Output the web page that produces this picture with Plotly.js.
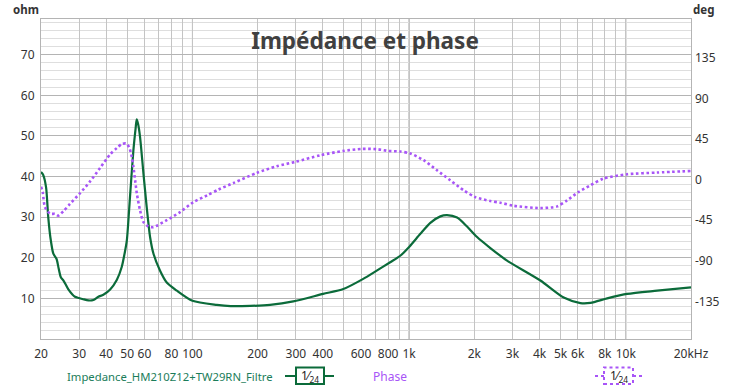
<!DOCTYPE html>
<html>
<head>
<meta charset="utf-8">
<script src="https://cdn.plot.ly/plotly-3.0.1.min.js"></script>
<style>
  html, body { margin: 0; padding: 0; background: #fff; }
  #chart { width: 743px; height: 388px; outline: 1px solid #8c8c8c; outline-offset: -1px; }
</style>
</head>
<body>
<div id="chart"></div>
<script>
// ---- data ----
const impFreq = [20, 20.43, 21.1, 21.6, 22.1, 22.8, 23.6, 24.1, 24.7, 25.4, 26.7, 28.7, 29.9, 31.3, 33.1, 34.9, 36.8, 38.8, 41.7, 44.8, 47.2, 48.6, 49.8, 51.5, 53.4, 54.7, 55.3, 56.1, 57.3, 59.4, 61.5, 63.8, 66.1, 70.9, 76.1, 84.7, 100, 129.6, 150, 185, 228, 292, 401, 497, 614, 712, 818, 910, 1005, 1127, 1253, 1394, 1496, 1665, 1851, 2059, 2371, 2832, 4036, 5170, 6175, 6871, 8208, 10146, 13960, 20000];
const impOhm = [41.1, 40.5, 37.4, 30, 25, 21, 19.7, 17.5, 15.2, 14.4, 12.3, 10.4, 10.1, 9.8, 9.5, 9.6, 10.4, 10.9, 12.2, 14.6, 17.8, 21, 24.3, 35, 46.5, 52, 54.1, 53, 49.8, 40.8, 32.5, 25, 21, 16.8, 13.9, 11.9, 9.4, 8.4, 8.1, 8.15, 8.4, 9.25, 11.1, 12.3, 14.8, 16.9, 18.9, 20.5, 22.8, 25.9, 28.6, 30.2, 30.5, 29.9, 27.7, 25.1, 22.4, 19.3, 14.4, 10.2, 8.85, 8.9, 10.0, 11.1, 11.9, 12.7];

const phFreq = [20, 20.36, 20.86, 22.0, 23.2, 24.0, 25.4, 27.2, 30.3, 33.7, 37.5, 41.7, 44.8, 47.3, 49.4, 51.0, 52.5, 53.4, 54.4, 55.4, 57.3, 59.4, 62.6, 66.0, 76.1, 87.7, 101, 117, 132, 155, 198, 245, 298, 389, 498, 606, 711, 804, 911, 1013, 1167, 1345, 1549, 1785, 2021, 2371, 2637, 3028, 4034, 4820, 5361, 6046, 6868, 7886, 10150, 13960, 20000];
const phDeg = [-8, -13.8, -30.5, -37.8, -38, -40, -35, -27, -15, -2, 13, 28, 35, 39.5, 40, 36, 25, 14, -1, -15.6, -34, -47, -52, -52.7, -45, -36, -25, -17.5, -11, -3.7, 7.4, 14.8, 19.6, 27, 31.8, 34, 33.7, 31.8, 31.1, 28.9, 21.5, 10.3, -0.8, -11.9, -19.4, -23.8, -25.6, -29, -31.6, -29.7, -23, -13.8, -6.3, 1.1, 5.9, 7.8, 9.6];

const xGridVals = [20,30,40,50,60,70,80,90,100,200,300,400,500,600,700,800,900,1000,2000,3000,4000,5000,6000,7000,8000,9000,10000,20000];
const xLabelMap = {20:'20',30:'30',40:'40',50:'50',60:'60',80:'80',100:'100',200:'200',300:'300',400:'400',600:'600',800:'800',1000:'1k',2000:'2k',3000:'3k',4000:'4k',5000:'5k',6000:'6k',8000:'8k',10000:'10k',20000:'20kHz'};
const xMajor = [100, 1000, 10000];
const yLeftTicks = [10, 20, 30, 40, 50, 60, 70];
const yRightTicks = [-135, -90, -45, 0, 45, 90, 135];

const seriesNames = ['Impedance_HM210Z12+TW29RN_Filtre', 'Phase'];
const titleText = 'Impédance et phase';

// ---- chart ----
const FONT = 'Noto Sans, Open Sans, sans-serif';
const green = '#0b6b3a';
const purple = '#a855f7';

// layout helpers (pixel -> paper)
const L = 41, R = 691, T = 19, B = 339;
const px = x => (x - L) / (R - L);
const py = y => (B - y) / (B - T);

const traces = [
  { x: impFreq, y: impOhm, type: 'scatter', mode: 'lines', name: seriesNames[0],
    line: { color: green, width: 2.2, shape: 'spline', smoothing: 0.7 }, yaxis: 'y', hoverinfo: 'skip' },
  { x: phFreq, y: phDeg, type: 'scatter', mode: 'lines', name: seriesNames[1],
    line: { color: purple, width: 2.6, dash: '2.6px,2.6px', shape: 'spline', smoothing: 0.7 }, yaxis: 'y2', hoverinfo: 'skip' }
];

const shapes = xMajor.map(v => ({ type: 'line', xref: 'x', yref: 'paper', x0: v, x1: v, y0: 0, y1: 1,
  line: { color: '#8a8a8a', width: 1 }, layer: 'below' }));

// legend-like symbols
function legendSymbol(x0, x1, bx0, bx1, color, dash) {
  const yc = py(376);
  shapes.push({ type: 'line', xref: 'paper', yref: 'paper', x0: px(x0), x1: px(bx0), y0: yc, y1: yc, line: { color, width: 2, dash } });
  shapes.push({ type: 'line', xref: 'paper', yref: 'paper', x0: px(bx1), x1: px(x1), y0: yc, y1: yc, line: { color, width: 2, dash } });
  shapes.push({ type: 'rect', xref: 'paper', yref: 'paper', x0: px(bx0), x1: px(bx1), y0: py(384), y1: py(367.5),
    line: { color, width: 2, dash }, fillcolor: '#fff' });
}
legendSymbol(285, 334, 296, 324, green, 'solid');
legendSymbol(595, 643, 604, 633, purple, 'dot');

const annotations = [
  { text: '<b>ohm</b>', xref: 'paper', yref: 'paper', x: px(26), y: py(9.5), showarrow: false,
    font: { family: FONT, size: 11.5, color: '#333' }, xanchor: 'center', yanchor: 'middle' },
  { text: '<b>deg</b>', xref: 'paper', yref: 'paper', x: px(703), y: py(9.5), showarrow: false,
    font: { family: FONT, size: 11.5, color: '#333' }, xanchor: 'center', yanchor: 'middle' },
  { text: seriesNames[0], xref: 'paper', yref: 'paper', x: px(65), y: py(376.5), showarrow: false,
    font: { family: FONT, size: 11.3, color: '#1b7d5a' }, xanchor: 'left', yanchor: 'middle' },
  { text: seriesNames[1], xref: 'paper', yref: 'paper', x: px(390), y: py(376.5), showarrow: false,
    font: { family: FONT, size: 12, color: purple }, xanchor: 'center', yanchor: 'middle' },
  { text: '1⁄<sub>24</sub>', xref: 'paper', yref: 'paper', x: px(310), y: py(375.5), showarrow: false,
    font: { family: FONT, size: 12, color: '#222' }, xanchor: 'center', yanchor: 'middle' },
  { text: '1⁄<sub>24</sub>', xref: 'paper', yref: 'paper', x: px(618.5), y: py(375.5), showarrow: false,
    font: { family: FONT, size: 12, color: '#222' }, xanchor: 'center', yanchor: 'middle' }
];

const layout = {
  width: 743, height: 388,
  margin: { l: L, r: 743 - R, t: T, b: 388 - B, pad: 0 },
  paper_bgcolor: '#ffffff', plot_bgcolor: '#ffffff',
  showlegend: false,
  title: { text: titleText, x: px(365), xref: 'paper', xanchor: 'center', y: py(41), yref: 'paper', yanchor: 'middle',
    font: { family: FONT, size: 22.5, color: '#404040', weight: 'bold' } },
  xaxis: {
    type: 'log', range: [Math.log10(20), Math.log10(20000)],
    tickmode: 'array', tickvals: xGridVals, ticktext: xGridVals.map(v => xLabelMap[v] || ''),
    showgrid: true, gridcolor: '#c4c4c4', gridwidth: 1,
    ticks: '', ticklabelstandoff: 4,
    showline: true, mirror: true, linecolor: '#b4b4b4', linewidth: 1,
    zeroline: false, tickfont: { family: FONT, size: 12, color: '#333' }
  },
  yaxis: {
    range: [0, 78.8], tickmode: 'array', tickvals: yLeftTicks,
    showgrid: true, gridcolor: '#b4b4b4', gridwidth: 1,
    minor: { dtick: 2, tick0: 0, showgrid: true, gridcolor: '#dedede', ticks: '' },
    ticks: '', ticklabelstandoff: 3, zeroline: false,
    showline: true, mirror: true, linecolor: '#b4b4b4', linewidth: 1,
    tickfont: { family: FONT, size: 12, color: '#333' }
  },
  yaxis2: {
    overlaying: 'y', side: 'right', range: [-176.7, 178],
    tickmode: 'array', tickvals: yRightTicks, ticktext: yRightTicks.map(String),
    showgrid: false, zeroline: false, ticks: '', ticklabelstandoff: 3,
    tickfont: { family: FONT, size: 12, color: '#333' }
  },
  shapes, annotations
};

Plotly.newPlot('chart', traces, layout, { staticPlot: true, displayModeBar: false });
</script>
</body>
</html>
